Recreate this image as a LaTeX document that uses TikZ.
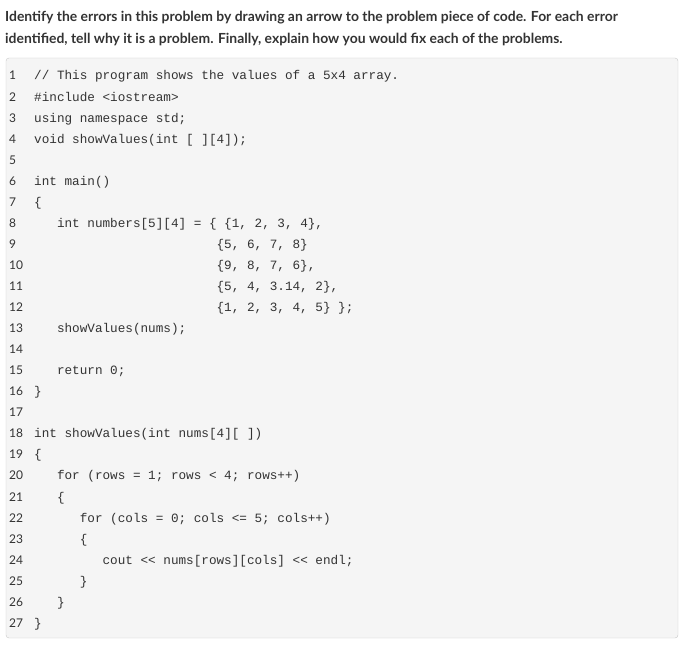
\documentclass[tikz,border=0pt]{standalone}
\usepackage{fontspec}
\setmainfont{Lato}
\setmonofont{Liberation Mono}
\definecolor{txt}{HTML}{333333}
\definecolor{bg}{HTML}{F5F5F5}
\definecolor{bd}{HTML}{C8C8C8}
\begin{document}
\begin{tikzpicture}[x=1pt,y=-1pt,
  hdr/.style={anchor=base west,inner sep=0pt,font=\fontsize{13.9}{16}\selectfont\bfseries,text=txt},
  num/.style={anchor=base west,inner sep=0pt,font=\fontsize{12}{14}\selectfont,text=txt},
  code/.style={anchor=base west,inner sep=0pt,font=\fontsize{12.67}{14}\selectfont\ttfamily,text=txt}]
\useasboundingbox (0,0) rectangle (685,655);
\node[hdr] (h1) at (5,22) {Identify the errors in this problem by drawing an arrow to the problem piece of code. For each error};
\node[hdr] (h2) at (5,44) {identified, tell why it is a problem. Finally, explain how you would fix each of the problems.};
\draw[bd,fill=bg,rounded corners=3pt] (6,58) rectangle (678,638);
\foreach \i in {1,...,27}{
  \node[num] (n\i) at (9,{80+21.05*(\i-1)}) {\i};
}
\def\cx#1{34+7.6*#1}
\def\cy#1{80+21.05*(#1-1)}
\node[code] (l1) at ({\cx0},{\cy1}) {// This program shows the values of a 5x4 array.};
\node[code] (l2) at ({\cx0},{\cy2}) {\#include <iostream>};
\node[code] (l3) at ({\cx0},{\cy3}) {using namespace std;};
\node[code] (l4) at ({\cx0},{\cy4}) {void showValues(int [ ][4]);};
\node[code] (l6) at ({\cx0},{\cy6}) {int main()};
\node[code] (l7) at ({\cx0},{\cy7}) {\{};
\node[code] (l8) at ({\cx3},{\cy8}) {int numbers[5][4] = \{ \{1, 2, 3, 4\},};
\node[code] (l9) at ({\cx{24}},{\cy9}) {\{5, 6, 7, 8\}};
\node[code] (l10) at ({\cx{24}},{\cy{10}}) {\{9, 8, 7, 6\},};
\node[code] (l11) at ({\cx{24}},{\cy{11}}) {\{5, 4, 3.14, 2\},};
\node[code] (l12) at ({\cx{24}},{\cy{12}}) {\{1, 2, 3, 4, 5\} \};};
\node[code] (l13) at ({\cx3},{\cy{13}}) {showValues(nums);};
\node[code] (l15) at ({\cx3},{\cy{15}}) {return 0;};
\node[code] (l16) at ({\cx0},{\cy{16}}) {\}};
\node[code] (l18) at ({\cx0},{\cy{18}}) {int showValues(int nums[4][ ])};
\node[code] (l19) at ({\cx0},{\cy{19}}) {\{};
\node[code] (l20) at ({\cx3},{\cy{20}}) {for (rows = 1; rows < 4; rows++)};
\node[code] (l21) at ({\cx3},{\cy{21}}) {\{};
\node[code] (l22) at ({\cx6},{\cy{22}}) {for (cols = 0; cols <= 5; cols++)};
\node[code] (l23) at ({\cx6},{\cy{23}}) {\{};
\node[code] (l24) at ({\cx9},{\cy{24}}) {cout << nums[rows][cols] << endl;};
\node[code] (l25) at ({\cx6},{\cy{25}}) {\}};
\node[code] (l26) at ({\cx3},{\cy{26}}) {\}};
\node[code] (l27) at ({\cx0},{\cy{27}}) {\}};
\end{tikzpicture}
\end{document}
